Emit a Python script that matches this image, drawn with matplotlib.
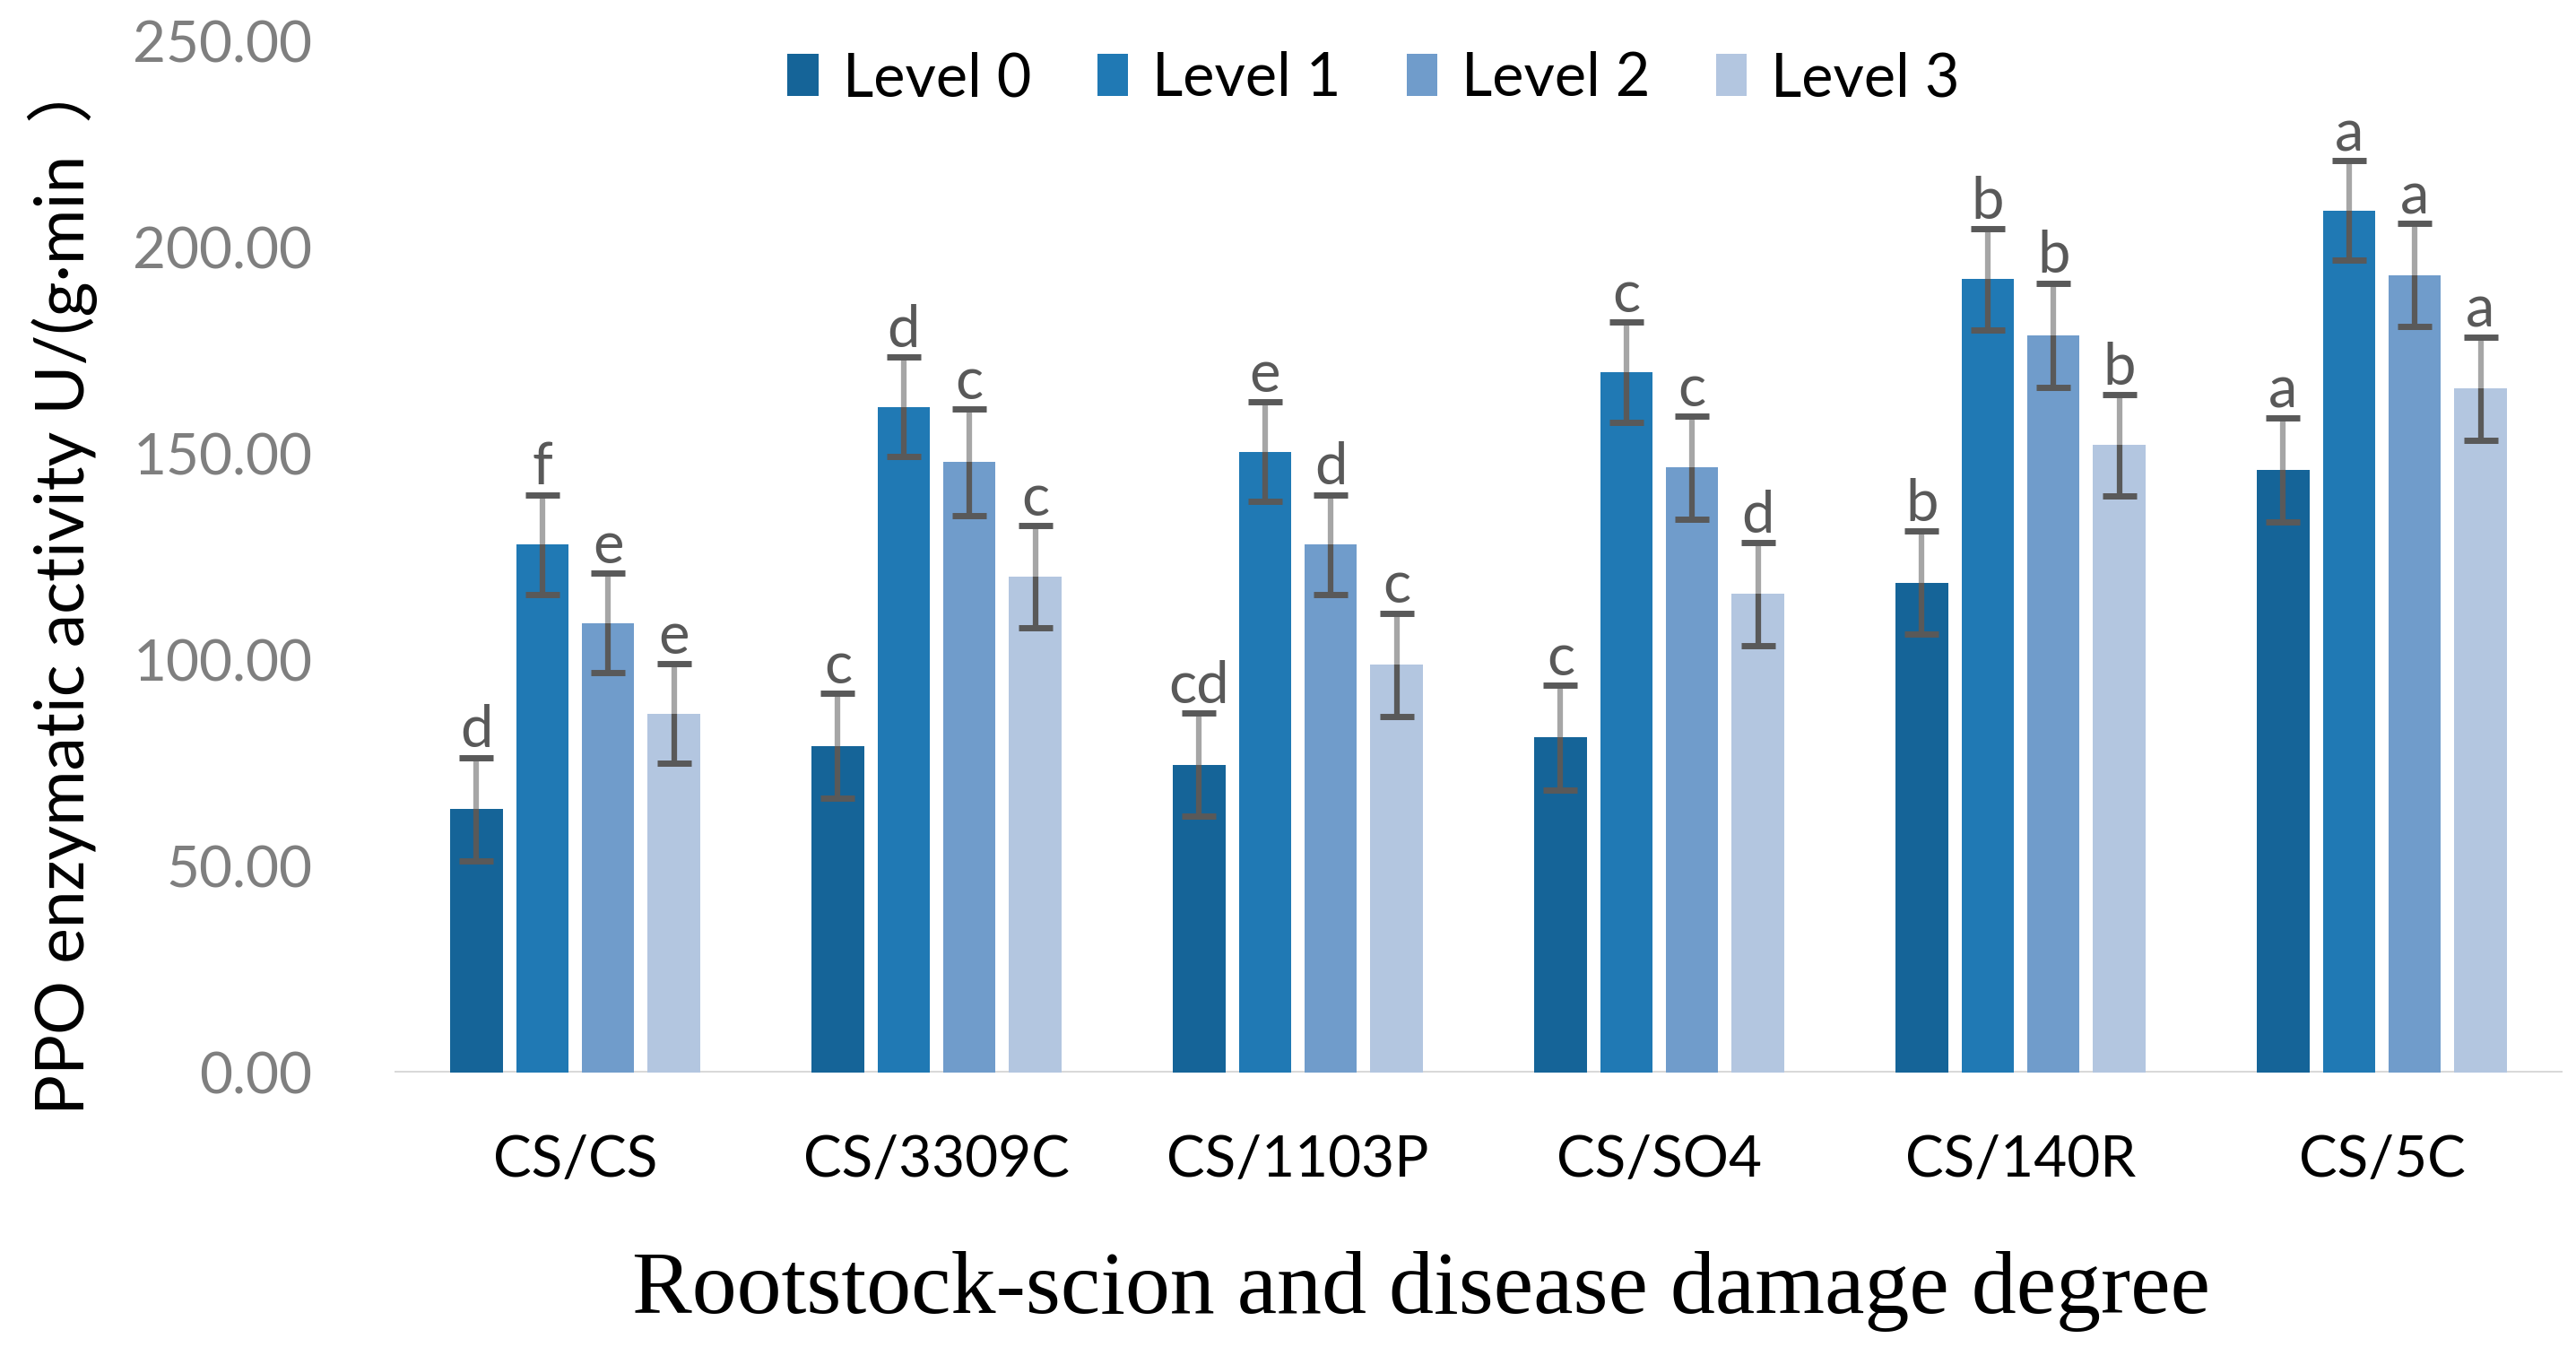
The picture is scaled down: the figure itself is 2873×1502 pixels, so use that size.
import matplotlib
matplotlib.use("Agg")
import matplotlib.pyplot as plt
import numpy as np
from matplotlib.patches import Patch

categories = ["CS/CS", "CS/3309C", "CS/1103P", "CS/SO4", "CS/140R", "CS/5C"]
levels = ["Level 0", "Level 1", "Level 2", "Level 3"]

level0 = [63.9, 79.2, 74.6, 81.2, 118.8, 146.1]
level1 = [128.0, 161.4, 150.5, 169.8, 192.3, 209.0]
level2 = [109.0, 148.0, 128.0, 146.7, 178.7, 193.3]
level3 = [87.0, 120.2, 98.9, 116.0, 152.1, 165.8]

err0 = [12.5, 12.7, 12.5, 12.7, 12.5, 12.7]
err1 = [12.1, 12.1, 12.0, 12.1, 12.3, 12.0]
err2 = [12.0, 12.9, 12.1, 12.5, 12.7, 12.5]
err3 = [12.1, 12.3, 12.5, 12.5, 12.3, 12.5]

sig0 = ["d", "c", "cd", "c", "b", "a"]
sig1 = ["f", "d", "e", "c", "b", "a"]
sig2 = ["e", "c", "d", "c", "b", "a"]
sig3 = ["e", "c", "c", "d", "b", "a"]

colors = ["#156498", "#2079b4", "#709ccb", "#b3c6e0"]
dark = "#595959"
light = "#a6a6a6"

values = [level0, level1, level2, level3]
errors = [err0, err1, err2, err3]
sigs = [sig0, sig1, sig2, sig3]

plt.rcParams["font.family"] = ["Lato", "Noto Sans CJK SC", "DejaVu Sans"]

W, H = 2873, 1502
fig = plt.figure(figsize=(W / 100, H / 100), dpi=100)
ax = fig.add_axes([440 / W, 1 - 1196 / H, (2858 - 440) / W, (1196 - 46) / H])

x = np.arange(len(categories))
step = 0.182
width = 0.145

for i in range(4):
    xs = x + (i - 1.5) * step
    v = np.array(values[i])
    e = np.array(errors[i])
    ax.bar(xs, v, width=width, color=colors[i], zorder=2)
    # lower half dark, upper half light, caps dark
    ax.vlines(xs, v - e, v, color=dark, lw=4.5, zorder=3)
    ax.vlines(xs, v, v + e, color=light, lw=4.5, zorder=3)
    ax.errorbar(xs, v, yerr=e, fmt="none", elinewidth=0, ecolor=dark,
                capsize=14, capthick=5, zorder=4)
    for xi, vi, ei, s in zip(xs, v, e, sigs[i]):
        ax.annotate(s, (xi, vi + ei), xytext=(0, 8), textcoords="offset points",
                    ha="center", va="baseline", fontsize=47, color=dark)

ax.set_xlim(-0.5, len(categories) - 0.5)
ax.set_ylim(0, 250)
ax.set_yticks(np.arange(0, 251, 50))
ax.set_yticklabels([f"{t:.2f}" for t in np.arange(0, 251, 50)], fontsize=46, color="#7f7f7f")
ax.set_xticks(x)
ax.set_xticklabels(categories, fontsize=46, color="black")
ax.tick_params(axis="y", length=0, pad=66)
ax.tick_params(axis="x", length=0, pad=50)
for sp in ax.spines.values():
    sp.set_visible(False)
ax.axhline(0, color="#d9d9d9", lw=3.6, zorder=1)

# y label: Latin part in Lato, full-width closing paren from the CJK font
fig.text(72 / W, 1 - 708 / H, "PPO enzymatic activity U/(g·min",
         rotation=90, ha="center", va="center", fontsize=54, color="black",
         family="Lato")
fig.text(70 / W, 1 - 134 / H, "）", rotation=90, ha="center", va="bottom",
         fontsize=54, color="black", family="Noto Sans CJK SC")

fig.text(1585 / W, 1 - 1440 / H, "Rootstock-scion and disease damage degree",
         ha="center", va="center", fontsize=72, family="Liberation Serif", color="black")

handles = [Patch(facecolor=c) for c in colors]
fig.legend(handles, levels, loc="center", bbox_to_anchor=(1532 / W, 1 - 88 / H),
           ncol=4, frameon=False, fontsize=48, handlelength=0.52, handleheight=0.72,
           handletextpad=0.4, columnspacing=1.1)

fig.savefig("out.png", dpi=100)
